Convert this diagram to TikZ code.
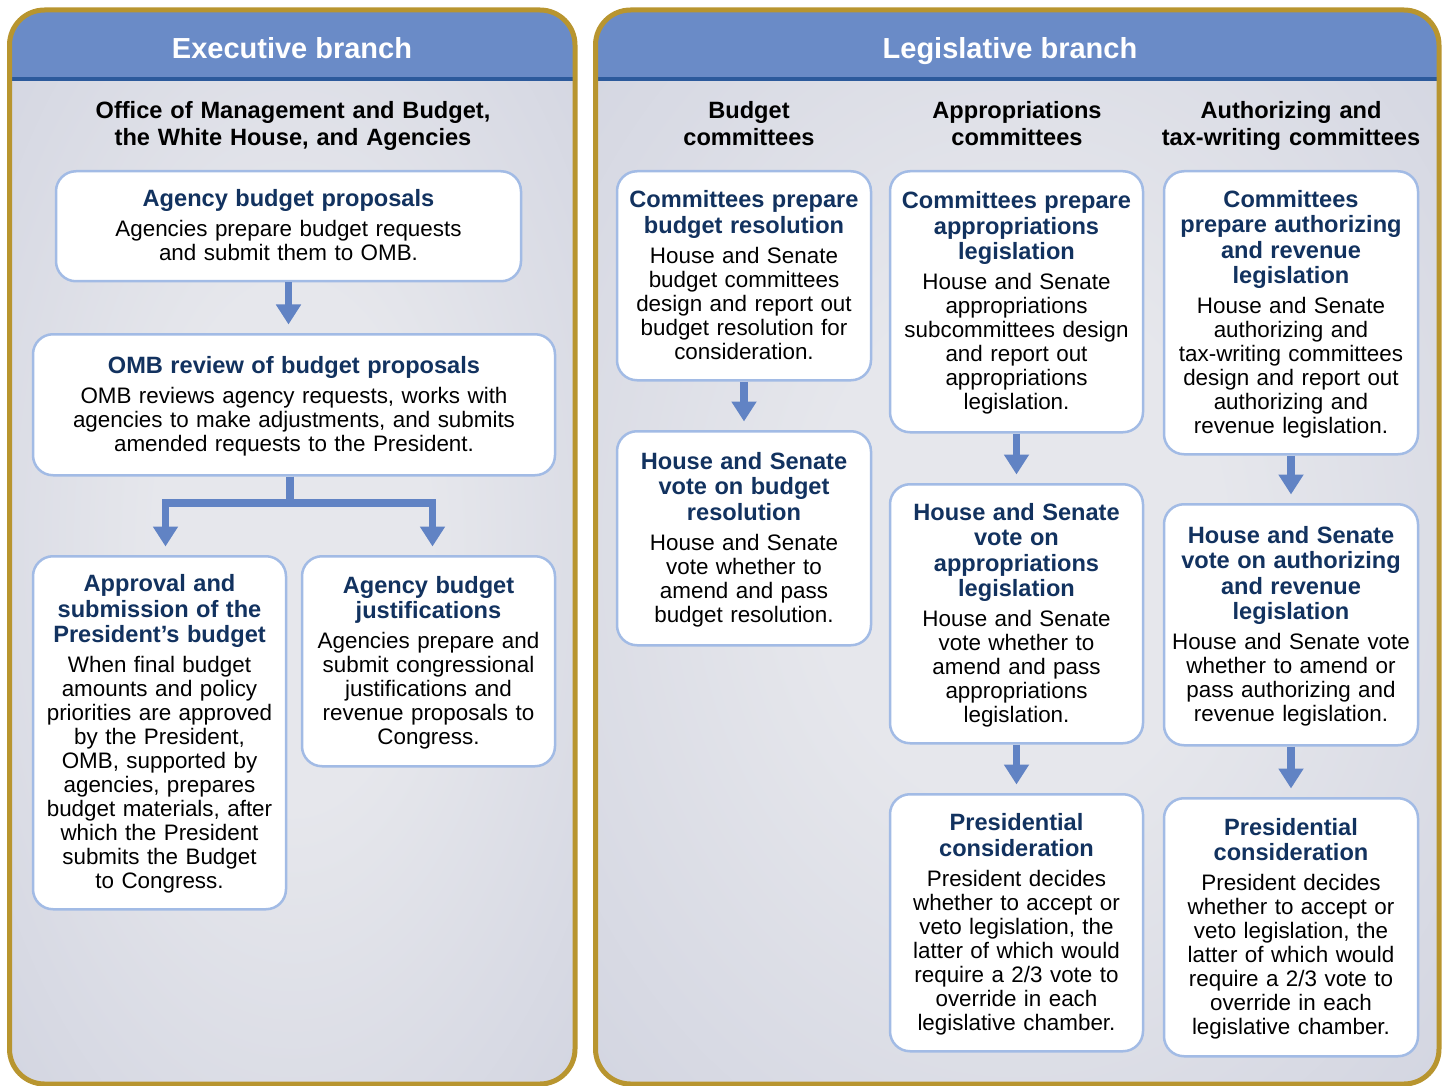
\documentclass[tikz,border=0pt]{standalone}
\usepackage{fontspec}
\setmainfont{Liberation Sans}
\usepackage{xcolor}
\usetikzlibrary{calc, arrows.meta}

\definecolor{gold}{HTML}{B8952F}
\definecolor{hdrblue}{HTML}{6A8BC7}
\definecolor{hdrline}{HTML}{2C5A9C}
\definecolor{bodyout}{HTML}{C9CCDB}
\definecolor{bodyin}{HTML}{E6E7EC}
\definecolor{boxline}{HTML}{A2BBE5}
\definecolor{arrblue}{HTML}{6183C4}
\definecolor{navy}{HTML}{12325F}

\newcommand{\ttlfont}{\fontsize{11.8}{12.7}\selectfont\bfseries\color{navy}}
\newcommand{\bodyfont}{\fontsize{11.2}{12}\selectfont}
\newcommand{\headfont}{\fontsize{11.8}{13.25}\selectfont\bfseries}
\newcommand{\stepcontent}[2]{\leavevmode{\ttlfont\rule{0pt}{17.8pt}#1\par}\vspace{3pt}{\bodyfont#2\rule[-10.2pt]{0pt}{10.2pt}\par}}

\pgfdeclareradialshading{panelshade}{\pgfpoint{0bp}{0bp}}{color(0bp)=(bodyin); color(12bp)=(bodyin); color(48bp)=(bodyout); color(80bp)=(bodyout)}

\begin{document}
\begin{tikzpicture}[x=0.5pt, y=-0.5pt,
    stepbox/.style={draw=boxline, line width=1.25pt, fill=white, rounded corners=10pt, inner sep=0pt, align=center, anchor=north, font=\bodyfont},
    colhead/.style={font=\headfont, align=center, anchor=base, text width=240pt, inner sep=0pt},
    branch/.style={font=\fontsize{14.5}{16}\selectfont\bfseries, text=white, anchor=base, inner sep=0pt},
    panel/.style={draw=gold, line width=2.5pt, rounded corners=17.5pt},
    arr/.style={draw=arrblue, line width=3.75pt, -{Triangle[width=12pt,length=10pt]}, shorten >=4.25pt}]
    \useasboundingbox (0,0) rectangle (1448,1086);

    \foreach \xa/\xb in {9.5/575, 595.5/1439} {
        \shade[shading=panelshade, rounded corners=17.5pt] (\xa,10) rectangle (\xb,1084);
        \begin{scope}
            \clip[rounded corners=17.5pt] (\xa,10) rectangle (\xb,1084);
            \fill[hdrblue] (\xa,10) rectangle (\xb,77);
            \fill[hdrline] (\xa,77) rectangle (\xb,81);
        \end{scope}
        \draw[panel] (\xa,10) rectangle (\xb,1084);
    }

    \node[branch] (exec) at (292,59) {Executive branch};
    \node[branch] (legis) at (1010,59) {Legislative branch};

    \node[colhead] (ombhead) at (293,119) {Office of Management and Budget,\\the White House, and Agencies};
    \node[colhead] (budhead) at (749,119) {Budget\\committees};
    \node[colhead] (apphead) at (1017,119) {Appropriations\\committees};
    \node[colhead] (authhead) at (1291,119) {Authorizing and\\tax-writing committees};

    \node[stepbox, text width=232.5pt, minimum height=55pt] (prop) at (288.5,170)
        {\stepcontent{Agency budget proposals}{Agencies prepare budget requests\\and submit them to OMB.}};
    \node[stepbox, text width=261pt, minimum height=70.5pt] (omb) at (294,333)
        {\stepcontent{OMB review of budget proposals}{OMB reviews agency requests, works with\\agencies to make adjustments, and submits\\amended requests to the President.}};
    \node[stepbox, text width=126.5pt, minimum height=176.5pt] (appr) at (159.5,555)
        {\stepcontent{Approval and\\submission of the\\President’s budget}{When final budget\\amounts and policy\\priorities are approved\\by the President,\\OMB, supported by\\agencies, prepares\\budget materials, after\\which the President\\submits the Budget\\to Congress.}};
    \node[stepbox, text width=126.5pt, minimum height=105pt] (just) at (428.5,555)
        {\stepcontent{Agency budget\\justifications}{Agencies prepare and\\submit congressional\\justifications and\\revenue proposals to\\Congress.}};

    \node[stepbox, text width=127pt, minimum height=104.5pt] (bres) at (744,170)
        {\stepcontent{Committees prepare\\budget resolution}{House and Senate\\budget committees\\design and report out\\budget resolution for\\consideration.}};
    \node[stepbox, text width=127pt, minimum height=107pt] (bvote) at (744,430)
        {\stepcontent{House and Senate\\vote on budget\\resolution}{House and Senate\\vote whether to\\amend and pass\\budget resolution.}};

    \node[stepbox, text width=126.5pt, minimum height=130.5pt] (aleg) at (1016.5,170)
        {\stepcontent{Committees prepare\\appropriations\\legislation}{House and Senate\\appropriations\\subcommittees design\\and report out\\appropriations\\legislation.}};
    \node[stepbox, text width=126.5pt, minimum height=129.5pt] (avote) at (1016.5,483)
        {\stepcontent{House and Senate\\vote on\\appropriations\\legislation}{House and Senate\\vote whether to\\amend and pass\\appropriations\\legislation.}};
    \node[stepbox, text width=126.5pt, minimum height=128.5pt] (apres) at (1016.5,793)
        {\stepcontent{Presidential\\consideration}{President decides\\whether to accept or\\veto legislation, the\\latter of which would\\require a 2/3 vote to\\override in each\\legislative chamber.}};

    \node[stepbox, text width=127pt, minimum height=141.5pt] (tleg) at (1291,170)
        {\stepcontent{Committees\\prepare authorizing\\and revenue\\legislation}{House and Senate\\authorizing and\\tax-writing committees\\design and report out\\authorizing and\\revenue legislation.}};
    \node[stepbox, text width=127pt, minimum height=120.5pt] (tvote) at (1291,503)
        {\stepcontent{House and Senate\\vote on authorizing\\and revenue\\legislation}{House and Senate vote\\whether to amend or\\pass authorizing and\\revenue legislation.}};
    \node[stepbox, text width=127pt, minimum height=129pt] (tpres) at (1291,797)
        {\stepcontent{Presidential\\consideration}{President decides\\whether to accept or\\veto legislation, the\\latter of which would\\require a 2/3 vote to\\override in each\\legislative chamber.}};

    \draw[arr] (prop.south) -- (prop.south |- omb.north);
    \coordinate (split) at (290,503);
    \draw[arr] (omb.south -| split) -- (split) -| ($(appr.north)+(6,0)$);
    \draw[arr] (omb.south -| split) -- (split) -| ($(just.north)+(4,0)$);
    \draw[arr] (bres) -- (bvote);
    \draw[arr] (aleg) -- (avote);
    \draw[arr] (avote) -- (apres);
    \draw[arr] (tleg) -- (tvote);
    \draw[arr] (tvote) -- (tpres);
\end{tikzpicture}
\end{document}
